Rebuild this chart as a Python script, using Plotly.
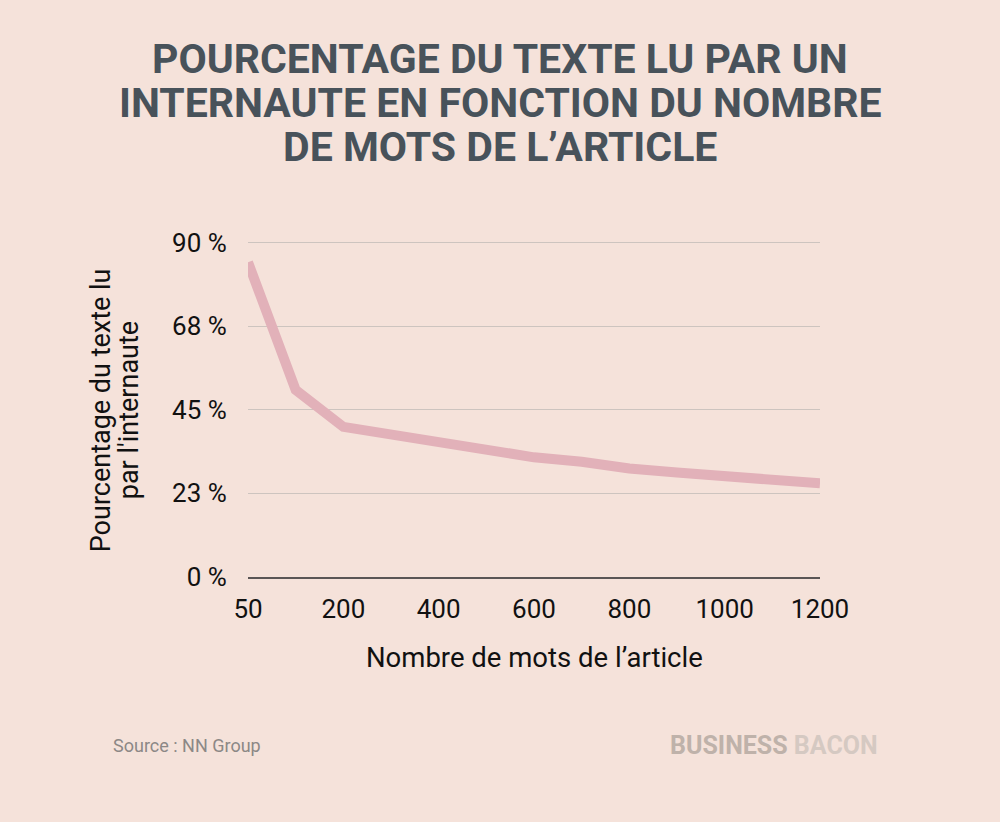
import plotly.graph_objects as go

# Data
categories = ["50", "100", "200", "300", "400", "500", "600", "700", "800", "900", "1000", "1100", "1200"]
pct_read = [84.7, 50.3, 40.4, 38.3, 36.3, 34.2, 32.2, 31.0, 29.2, 28.1, 27.1, 26.2, 25.2]
x_tick_vals = ["50", "200", "400", "600", "800", "1000", "1200"]
y_tick_vals = [0, 22.5, 45, 67.5, 90]
y_tick_text = ["0 %", "23 %", "45 %", "68 %", "90 %"]
title_lines = ["POURCENTAGE DU TEXTE LU PAR UN",
               "INTERNAUTE EN FONCTION DU NOMBRE",
               "DE MOTS DE L\u2019ARTICLE"]
y_title_lines = ["Pourcentage du texte lu", "par l'internaute"]

BG = "#f5e2da"
W, H = 1000, 822
Y_MAX = 90.4
B = 577
PX_PER_UNIT = 335 / 90
T = B - Y_MAX * PX_PER_UNIT
L, R = 248, 820

def px(x):
    return (x - L) / (R - L)

def py(y):
    return (B - y) / (B - T)

fig = go.Figure()
fig.add_trace(go.Scatter(
    x=categories, y=pct_read, mode="lines",
    line=dict(color="#e2b1b9", width=10),
    hoverinfo="x+y", showlegend=False,
))

annotations = []
for line, yc in zip(title_lines, [58, 102.5, 146]):
    annotations.append(dict(
        text=line, x=px(500), y=py(yc), xref="paper", yref="paper",
        xanchor="center", yanchor="middle", showarrow=False,
        font=dict(family="Roboto", size=41, color="#48525a", weight="bold"),
    ))

for line, xc in zip(y_title_lines, [101, 129]):
    annotations.append(dict(
        text=line, x=px(xc), y=py(410),
        xref="paper", yref="paper", xanchor="center", yanchor="middle",
        showarrow=False, textangle=-90,
        font=dict(family="Roboto", size=27, color="#111111"),
    ))
annotations.append(dict(
    text="Nombre de mots de l\u2019article", x=px(534), y=py(658),
    xref="paper", yref="paper", xanchor="center", yanchor="middle",
    showarrow=False, font=dict(family="Roboto", size=27.5, color="#111111"),
))
annotations.append(dict(
    text="Source : NN Group", x=px(111), y=py(746),
    xref="paper", yref="paper", xanchor="left", yanchor="middle",
    showarrow=False, font=dict(family="Roboto", size=18, color="#8c8886"),
))
annotations.append(dict(
    text="<span style='color:#bfb2aa'>BUSINESS</span> <span style='color:#d5c9c2'>BACON</span>",
    x=px(880), y=py(746), xref="paper", yref="paper", xanchor="right", yanchor="middle",
    showarrow=False, font=dict(family="Roboto", size=25, color="#bfb2aa", weight="bold"),
))

fig.update_layout(
    width=W, height=H,
    margin=dict(l=L, r=W - R, t=T, b=H - B, pad=0),
    paper_bgcolor=BG, plot_bgcolor=BG,
    annotations=annotations,
    xaxis=dict(
        type="category", range=[0, len(categories) - 1],
        tickvals=x_tick_vals, ticktext=x_tick_vals,
        showgrid=False, zeroline=False,
        showline=True, linecolor="#5a5555", linewidth=2,
        ticks="outside", ticklen=8, tickcolor="rgba(0,0,0,0)",
        tickfont=dict(family="Roboto", size=26, color="#111111"),
    ),
    yaxis=dict(
        range=[0, Y_MAX], tickvals=y_tick_vals, ticktext=y_tick_text,
        showgrid=True, gridcolor="#cdc4bf", gridwidth=1.3,
        zeroline=False, showline=False,
        ticks="outside", ticklen=15, tickcolor="rgba(0,0,0,0)",
        tickfont=dict(family="Roboto", size=26, color="#111111"),
    ),
)

fig.write_html(
    "out.html",
    config={"displayModeBar": False},
    post_script="document.body.style.margin='0';document.body.style.background='%s';" % BG,
)
